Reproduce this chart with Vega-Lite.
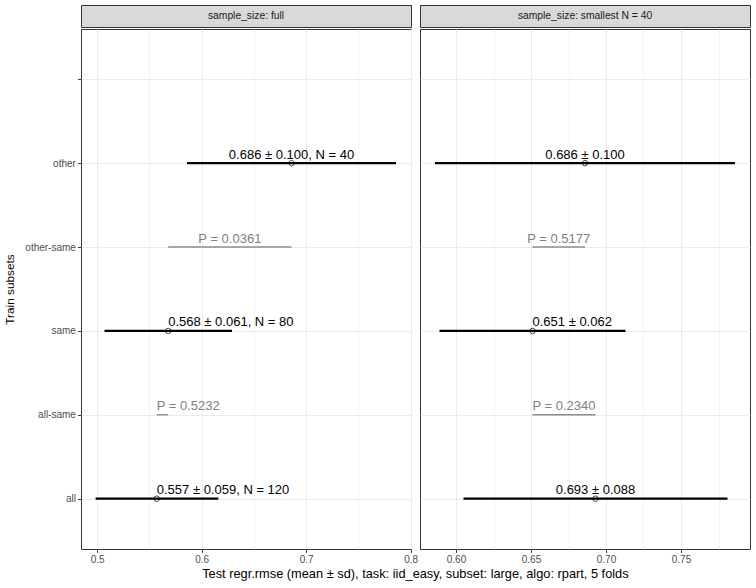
{
  "$schema": "https://vega.github.io/schema/vega-lite/v6.json",
  "background": "white",
  "padding": {"left": 4, "top": 4, "right": 7, "bottom": 5},
  "config": {
    "font": "Liberation Sans",
    "view": {"stroke": "#333333", "strokeWidth": 1},
    "axis": {
      "domain": false,
      "gridColor": "#EBEBEB",
      "tickColor": "#333333",
      "tickSize": 3.4,
      "labelFont": "Liberation Sans",
      "labelFontSize": 10,
      "labelColor": "#4D4D4D",
      "labelPadding": 2.2,
      "titleFont": "Liberation Sans",
      "titleFontSize": 11.8,
      "titleFontWeight": "normal",
      "titleColor": "#000000"
    }
  },
  "datasets": {
    "stats": [
      {"panel": "full", "kind": "stat", "subset": "other", "mean": 0.686, "lo": 0.586, "hi": 0.786, "tx": 0.686, "label": "0.686 ± 0.100, N = 40"},
      {"panel": "full", "kind": "p", "subset": "other-same", "lo": 0.568, "hi": 0.686, "tx": 0.627, "label": "P = 0.0361"},
      {"panel": "full", "kind": "stat", "subset": "same", "mean": 0.568, "lo": 0.507, "hi": 0.629, "tx": 0.568, "label": "0.568 ± 0.061, N = 80"},
      {"panel": "full", "kind": "p", "subset": "all-same", "lo": 0.557, "hi": 0.568, "tx": 0.557, "label": "P = 0.5232"},
      {"panel": "full", "kind": "stat", "subset": "all", "mean": 0.557, "lo": 0.4985, "hi": 0.616, "tx": 0.557, "label": "0.557 ± 0.059, N = 120"},
      {"panel": "smallest", "kind": "stat", "subset": "other", "mean": 0.686, "lo": 0.586, "hi": 0.786, "tx": 0.686, "label": "0.686 ± 0.100"},
      {"panel": "smallest", "kind": "p", "subset": "other-same", "lo": 0.651, "hi": 0.686, "tx": 0.6685, "label": "P = 0.5177"},
      {"panel": "smallest", "kind": "stat", "subset": "same", "mean": 0.651, "lo": 0.589, "hi": 0.713, "tx": 0.651, "label": "0.651 ± 0.062"},
      {"panel": "smallest", "kind": "p", "subset": "all-same", "lo": 0.651, "hi": 0.693, "tx": 0.672, "label": "P = 0.2340"},
      {"panel": "smallest", "kind": "stat", "subset": "all", "mean": 0.693, "lo": 0.605, "hi": 0.781, "tx": 0.693, "label": "0.693 ± 0.088"}
    ]
  },
  "title": {
    "text": "Test regr.rmse (mean ± sd), task: iid_easy, subset: large, algo: rpart, 5 folds",
    "orient": "bottom",
    "anchor": "middle",
    "dx": 38,
    "font": "Liberation Sans",
    "fontSize": 12.8,
    "fontWeight": "normal",
    "color": "#000000",
    "offset": 3
  },
  "spacing": 0,
  "hconcat": [
    {
      "spacing": 0,
      "vconcat": [
        {
          "width": 330,
          "height": 22,
          "data": {"values": [{"strip": "sample_size: full"}]},
          "view": {"fill": "#D9D9D9", "stroke": "#333333"},
          "mark": {"type": "text", "fontSize": 10.3, "color": "#1A1A1A", "baseline": "middle"},
          "encoding": {"text": {"field": "strip"}}
        },
        {
          "width": 330,
          "height": 520,
          "data": {"name": "stats"},
          "transform": [{"filter": "datum.panel == 'full'"}],
          "encoding": {
            "y": {
              "field": "subset",
              "type": "nominal",
              "scale": {"type": "point", "domain": ["(blank)", "other", "other-same", "same", "all-same", "all"], "padding": 0.6},
              "axis": {"title": "Train subsets", "grid": true, "titlePadding": 9, "labelExpr": "datum.value == '(blank)' ? '' : datum.label"}
            },
            "color": {"field": "kind", "type": "nominal", "scale": {"domain": ["stat", "p"], "range": ["#000000", "#808080"]}, "legend": null}
          },
          "layer": [
            {
              "transform": [{"filter": "datum.kind == 'p'"}],
              "mark": {"type": "rule", "strokeWidth": 1.4},
              "encoding": {
                "x": {
                  "field": "lo", "type": "quantitative",
                  "scale": {"domain": [0.4845, 0.8004], "nice": false, "zero": false},
                  "axis": {
                    "title": null,
                    "values": [0.5, 0.55, 0.6, 0.65, 0.7, 0.75, 0.8],
                    "format": ".1f",
                    "labelFlush": false,
                    "labelOverlap": false,
                    "labelExpr": "abs(datum.value*10 - round(datum.value*10)) < 0.001 ? datum.label : ''",
                    "tickOpacity": {"condition": {"test": "abs(datum.value*10 - round(datum.value*10)) < 0.001", "value": 1}, "value": 0},
                    "gridWidth": {"condition": {"test": "abs(datum.value*10 - round(datum.value*10)) < 0.001", "value": 1}, "value": 0.6}
                  }
                },
                "x2": {"field": "hi"},
                "color": {"value": "#8C8C8C"}
              }
            },
            {
              "transform": [{"filter": "datum.kind == 'stat'"}],
              "mark": {"type": "rule", "strokeWidth": 2.2},
              "encoding": {"x": {"field": "lo", "type": "quantitative"}, "x2": {"field": "hi"}, "color": {"value": "#000000"}}
            },
            {
              "transform": [{"filter": "datum.kind == 'stat'"}],
              "mark": {"type": "point", "shape": "circle", "filled": false, "size": 30, "strokeWidth": 1},
              "encoding": {"x": {"field": "mean", "type": "quantitative"}, "color": {"value": "#000000"}}
            },
            {
              "transform": [{"filter": "datum.subset == 'other' || datum.subset == 'other-same'"}],
              "mark": {"type": "text", "fontSize": 13, "align": "center", "baseline": "alphabetic", "dy": -4.5},
              "encoding": {"x": {"field": "tx", "type": "quantitative"}, "text": {"field": "label"}}
            },
            {
              "transform": [{"filter": "datum.subset != 'other' && datum.subset != 'other-same'"}],
              "mark": {"type": "text", "fontSize": 13, "align": "left", "baseline": "alphabetic", "dy": -4.5},
              "encoding": {"x": {"field": "tx", "type": "quantitative"}, "text": {"field": "label"}}
            }
          ]
        }
      ]
    },
    {
      "spacing": 0,
      "vconcat": [
        {
          "width": 330,
          "height": 22,
          "data": {"values": [{"strip": "sample_size: smallest N = 40"}]},
          "view": {"fill": "#D9D9D9", "stroke": "#333333"},
          "mark": {"type": "text", "fontSize": 10.3, "color": "#1A1A1A", "baseline": "middle"},
          "encoding": {"text": {"field": "strip"}}
        },
        {
          "width": 330,
          "height": 520,
          "data": {"name": "stats"},
          "transform": [{"filter": "datum.panel == 'smallest'"}],
          "encoding": {
            "y": {
              "field": "subset",
              "type": "nominal",
              "scale": {"type": "point", "domain": ["(blank)", "other", "other-same", "same", "all-same", "all"], "padding": 0.6},
              "axis": {"title": null, "grid": true, "labels": false, "ticks": false}
            },
            "color": {"field": "kind", "type": "nominal", "scale": {"domain": ["stat", "p"], "range": ["#000000", "#808080"]}, "legend": null}
          },
          "layer": [
            {
              "transform": [{"filter": "datum.kind == 'p'"}],
              "mark": {"type": "rule", "strokeWidth": 1.4},
              "encoding": {
                "x": {
                  "field": "lo", "type": "quantitative",
                  "scale": {"domain": [0.576, 0.796], "nice": false, "zero": false},
                  "axis": {
                    "title": null,
                    "values": [0.6, 0.625, 0.65, 0.675, 0.7, 0.725, 0.75, 0.775],
                    "format": ".2f",
                    "labelFlush": false,
                    "labelOverlap": false,
                    "labelExpr": "abs(datum.value*20 - round(datum.value*20)) < 0.001 ? datum.label : ''",
                    "tickOpacity": {"condition": {"test": "abs(datum.value*20 - round(datum.value*20)) < 0.001", "value": 1}, "value": 0},
                    "gridWidth": {"condition": {"test": "abs(datum.value*20 - round(datum.value*20)) < 0.001", "value": 1}, "value": 0.6}
                  }
                },
                "x2": {"field": "hi"},
                "color": {"value": "#8C8C8C"}
              }
            },
            {
              "transform": [{"filter": "datum.kind == 'stat'"}],
              "mark": {"type": "rule", "strokeWidth": 2.2},
              "encoding": {"x": {"field": "lo", "type": "quantitative"}, "x2": {"field": "hi"}, "color": {"value": "#000000"}}
            },
            {
              "transform": [{"filter": "datum.kind == 'stat'"}],
              "mark": {"type": "point", "shape": "circle", "filled": false, "size": 30, "strokeWidth": 1},
              "encoding": {"x": {"field": "mean", "type": "quantitative"}, "color": {"value": "#000000"}}
            },
            {
              "transform": [{"filter": "datum.subset != 'same'"}],
              "mark": {"type": "text", "fontSize": 13, "align": "center", "baseline": "alphabetic", "dy": -4.5},
              "encoding": {"x": {"field": "tx", "type": "quantitative"}, "text": {"field": "label"}}
            },
            {
              "transform": [{"filter": "datum.subset == 'same'"}],
              "mark": {"type": "text", "fontSize": 13, "align": "left", "baseline": "alphabetic", "dy": -4.5},
              "encoding": {"x": {"field": "tx", "type": "quantitative"}, "text": {"field": "label"}}
            }
          ]
        }
      ]
    }
  ]
}
